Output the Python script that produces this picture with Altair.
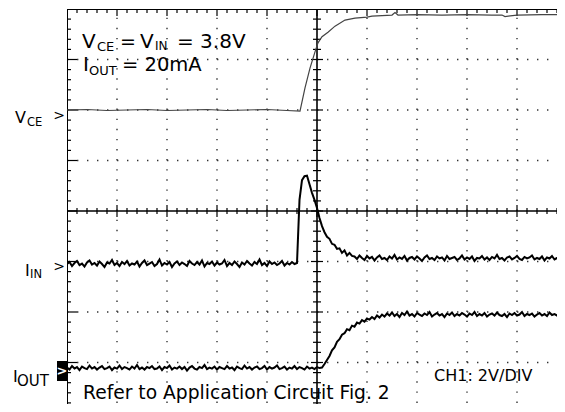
import altair as alt
import pandas as pd

# ---- scope trace data (time and amplitude in screen divisions) ----
STEP = 0.05  # sample spacing of the noisy traces, in time divisions

vce_t = [0.0, 0.4, 0.8, 1.2, 1.6, 2.0, 2.4, 2.8, 3.2, 3.6, 4.0, 4.4,
         4.66, 4.76, 4.86, 4.96, 5.02, 5.10, 5.22, 5.36, 5.56, 5.76,
         6.0, 6.1, 6.3, 6.5, 6.56, 6.62,
         7.0, 7.5, 8.0, 8.5, 8.7, 8.76, 9.0, 9.5, 10.0]
vce_v = [6.00, 6.01, 5.99, 6.00, 6.01, 5.99, 6.00, 6.01, 5.99, 6.00, 6.01, 5.99,
         5.98, 6.44, 6.83, 7.15, 7.33, 7.45, 7.54, 7.66, 7.78, 7.82,
         7.84, 7.86, 7.87, 7.88, 7.93, 7.88,
         7.89, 7.88, 7.89, 7.88, 7.88, 7.85, 7.88, 7.89, 7.89]

iin_v = [
    2.95, 2.99, 2.91, 2.97, 3.01, 2.93, 2.96, 2.90, 2.98, 3.02,
    2.94, 2.97, 2.92, 3.00, 2.95, 2.89, 2.98, 2.96, 3.03, 2.93,
    2.97, 2.91, 2.99, 2.95, 3.01, 2.92, 2.96, 2.94, 3.00, 2.90,
    2.97, 3.02, 2.93, 2.96, 2.99, 2.91, 2.95, 3.04, 2.92, 2.97,
    2.94, 2.99, 2.89, 2.96, 3.00, 2.93, 2.98, 2.95, 2.91, 3.01,
    2.96, 2.93, 2.99, 2.94, 3.02, 2.90, 2.97, 2.95, 3.00, 2.92,
    2.98, 2.94, 2.96, 3.03, 2.91, 2.97, 2.93, 3.00, 2.95, 2.89,
    2.98, 2.94, 3.01, 2.96, 2.92, 2.99, 2.95, 3.04, 2.93, 2.97,
    2.91, 3.00, 2.95, 2.98, 2.93, 2.96, 3.01, 2.92, 2.97, 2.94,
    2.99, 2.95, 2.97,
    4.22, 4.61, 4.69, 4.70, 4.53, 4.36, 4.22, 4.06, 3.86, 3.70,
    3.58, 3.49, 3.45, 3.35, 3.33, 3.25, 3.26, 3.17, 3.22, 3.12,
    3.17, 3.11,
    3.10, 3.05, 3.12, 3.07, 3.03, 3.11, 3.06, 3.09, 3.02, 3.08,
    3.12, 3.05, 3.07, 3.03, 3.10, 3.06, 3.13, 3.04, 3.08, 3.05,
    3.11, 3.02, 3.07, 3.09, 3.04, 3.10, 3.06, 3.01, 3.08, 3.12,
    3.05, 3.07, 3.03, 3.10, 3.06, 3.08, 3.02, 3.11, 3.05, 3.07,
    3.09, 3.03, 3.06, 3.12, 3.04, 3.08, 3.05, 3.10, 3.01, 3.07,
    3.06, 3.11, 3.04, 3.08, 3.03, 3.09, 3.06, 3.13, 3.05, 3.07,
    3.02, 3.08, 3.10, 3.04, 3.07, 3.11, 3.05, 3.03, 3.09, 3.06,
    3.08, 3.12, 3.04, 3.07, 3.05, 3.10, 3.02, 3.08, 3.06, 3.11,
    3.04, 3.07, 3.09, 3.05, 3.08, 3.06,
]

iout_v = [
    0.90, 0.86, 0.93, 0.88, 0.91, 0.85, 0.92, 0.89, 0.87, 0.94,
    0.88, 0.91, 0.86, 0.90, 0.93, 0.87, 0.89, 0.92, 0.85, 0.90,
    0.88, 0.94, 0.87, 0.91, 0.89, 0.86, 0.92, 0.88, 0.95, 0.87,
    0.90, 0.86, 0.91, 0.89, 0.93, 0.87, 0.88, 0.92, 0.85, 0.91,
    0.89, 0.94, 0.86, 0.90, 0.88, 0.92, 0.87, 0.91, 0.84, 0.90,
    0.93, 0.88, 0.86, 0.91, 0.89, 0.95, 0.87, 0.90, 0.88, 0.92,
    0.86, 0.91, 0.89, 0.87, 0.93, 0.88, 0.90, 0.85, 0.92, 0.89,
    0.87, 0.94, 0.88, 0.91, 0.86, 0.90, 0.92, 0.87, 0.89, 0.93,
    0.86, 0.91, 0.88, 0.90, 0.94, 0.87, 0.89, 0.92, 0.86, 0.90,
    0.88, 0.93, 0.87, 0.91, 0.89, 0.86, 0.92, 0.88, 0.90, 0.87,
    0.91, 0.89, 0.90,
    0.97, 1.05, 1.13, 1.24, 1.30, 1.41, 1.46, 1.55, 1.58, 1.66,
    1.64, 1.73, 1.71, 1.79, 1.77, 1.84, 1.81, 1.87, 1.85, 1.90,
    1.86, 1.93, 1.89, 1.95,
    1.91, 1.97, 1.93, 1.99, 1.92, 1.96, 1.90, 1.98, 1.94, 2.01,
    1.93, 1.96, 1.91, 1.98, 1.95, 1.92, 1.97, 1.94, 2.00, 1.91,
    1.95, 1.98, 1.93, 1.96, 1.90, 1.97, 1.94, 1.99, 1.92, 1.96,
    1.93, 1.98, 1.95, 1.91, 1.97, 1.94, 2.00, 1.92, 1.96, 1.93,
    1.98, 1.91, 1.95, 1.97, 1.93, 1.99, 1.94, 1.92, 1.96, 1.90,
    1.97, 1.94, 1.98, 1.93, 1.95, 2.00, 1.92, 1.96, 1.94, 1.97,
    1.91, 1.95, 1.98, 1.93, 1.96, 1.92, 1.99, 1.94, 1.96, 1.93,
    1.97, 1.95, 1.92, 1.96,
]

# ---- screen geometry ----
XDIV, YDIV = 10, 8
PXX, PXY = 50.0, 50.5          # pixels per division
W, H = 490, 395                # visible part of the screen (rest is cut off)
X_HI = W / PXX                 # 9.8 divisions visible
Y_LO = YDIV - H / PXY          # bottom ~0.18 division is cut off
FONT = "DejaVu Sans"

xs = alt.Scale(domain=[0, X_HI], nice=False, zero=False)
ys = alt.Scale(domain=[Y_LO, YDIV], nice=False, zero=False)

vce_df = pd.DataFrame({"t": vce_t, "v": vce_v})
iin_df = pd.DataFrame({"t": [i * STEP for i in range(len(iin_v))], "v": iin_v})
iout_df = pd.DataFrame({"t": [i * STEP for i in range(len(iout_v))], "v": iout_v})

# graticule: dotted grid, centre cross, frame, tick marks
grid_v = pd.DataFrame([{"x": gx, "x2": gx, "y": 0, "y2": YDIV}
                       for gx in range(1, XDIV) if gx != 5])
grid_h = pd.DataFrame([{"x": 0, "x2": XDIV, "y": gy, "y2": gy}
                       for gy in range(1, YDIV) if gy != 4])

tick_rows = []
for k in range(1, XDIV * 5):
    x = k / 5
    major = k % 5 == 0
    L = (7 if major else 4) / PXY
    h = (6 if major else 3) / PXY
    tick_rows.append({"x": x, "x2": x, "y": YDIV, "y2": YDIV - L})
    tick_rows.append({"x": x, "x2": x, "y": 4 - h, "y2": 4 + h})
for k in range(1, YDIV * 5):
    y = k / 5
    major = k % 5 == 0
    L = (10 if major else 4) / PXX
    h = (6 if major else 4) / PXX
    tick_rows.append({"x": 0, "x2": L, "y": y, "y2": y})
    tick_rows.append({"x": 5 - h, "x2": 5 + h, "y": y, "y2": y})
ticks = pd.DataFrame(tick_rows)
cross = pd.DataFrame([{"x": 5, "x2": 5, "y": 0, "y2": YDIV},
                      {"x": 0, "x2": XDIV, "y": 4, "y2": 4}])
frame = pd.DataFrame([{"x": 0, "x2": 0, "y": 0, "y2": YDIV},
                      {"x": 0, "x2": XDIV, "y": YDIV, "y2": YDIV}])


def rules(df, **kw):
    return alt.Chart(df).mark_rule(clip=True, **kw).encode(
        x=alt.X("x:Q", scale=xs, axis=None), x2="x2:Q",
        y=alt.Y("y:Q", scale=ys, axis=None), y2="y2:Q")


def trace(df, **kw):
    return alt.Chart(df).mark_line(interpolate="linear", clip=True, **kw).encode(
        x=alt.X("t:Q", scale=xs, axis=None),
        y=alt.Y("v:Q", scale=ys, axis=None))


one = pd.DataFrame({"k": [0]})


def txt(s, x, y, size, color="black", font=FONT, align="left", weight="normal"):
    return alt.Chart(one).mark_text(
        text=s, align=align, baseline="alphabetic", fontSize=size,
        font=font, color=color, fontWeight=weight
    ).encode(x=alt.value(x), y=alt.value(y))


layers = [
    rules(grid_v, color="#333", strokeWidth=1.4, strokeDash=[1.4, 8.7]),
    rules(grid_h, color="#333", strokeWidth=1.4, strokeDash=[1.4, 8.6]),
    rules(cross, color="black", strokeWidth=1.6),
    rules(frame, color="black", strokeWidth=2),
    rules(ticks, color="black", strokeWidth=1.2),
    trace(vce_df, color="#444", strokeWidth=1.2),
    trace(iin_df, color="black", strokeWidth=2),
    trace(iout_df, color="black", strokeWidth=2),
    # header annotation
    txt("V", 15, 39, 20),
    txt("CE", 30, 42, 13),
    txt("=", 53, 39, 19),
    txt("V", 73, 39, 20),
    txt("IN", 88, 41, 12),
    txt("= 3.8V", 110, 39, 20),
    txt("I", 16, 62, 20),
    txt("OUT", 22, 66, 13),
    txt("= 20mA", 55, 62, 19.5),
    txt("Refer to Application Circuit Fig. 2", 16, 390, 18.7),
    txt("CH1: 2V/DIV", 367, 372, 16),
    # channel labels and markers
    txt("V", -52, 114, 16),
    txt("CE", -40, 116.5, 11.5),
    txt(">", -8, 111, 14, align="center"),
    txt("I", -42, 267, 16),
    txt("IN", -37, 269, 11.5),
    txt(">", -8, 262, 14, align="center"),
    alt.Chart(one).mark_rect(color="black").encode(
        x=alt.value(-10), x2=alt.value(1), y=alt.value(352), y2=alt.value(372)),
    txt(">", -5, 366, 13, color="white", align="center", weight="bold"),
    txt("I", -54, 373, 16),
    txt("OUT", -50, 377, 15),
]

chart = alt.layer(*layers).properties(
    width=W, height=H,
    autosize=alt.AutoSizeParams(type="none"),
    padding={"left": 59, "top": 1, "right": 0, "bottom": 0},
).configure_view(stroke=None)

chart.save("out.html", embed_options={"renderer": "svg", "actions": False})
